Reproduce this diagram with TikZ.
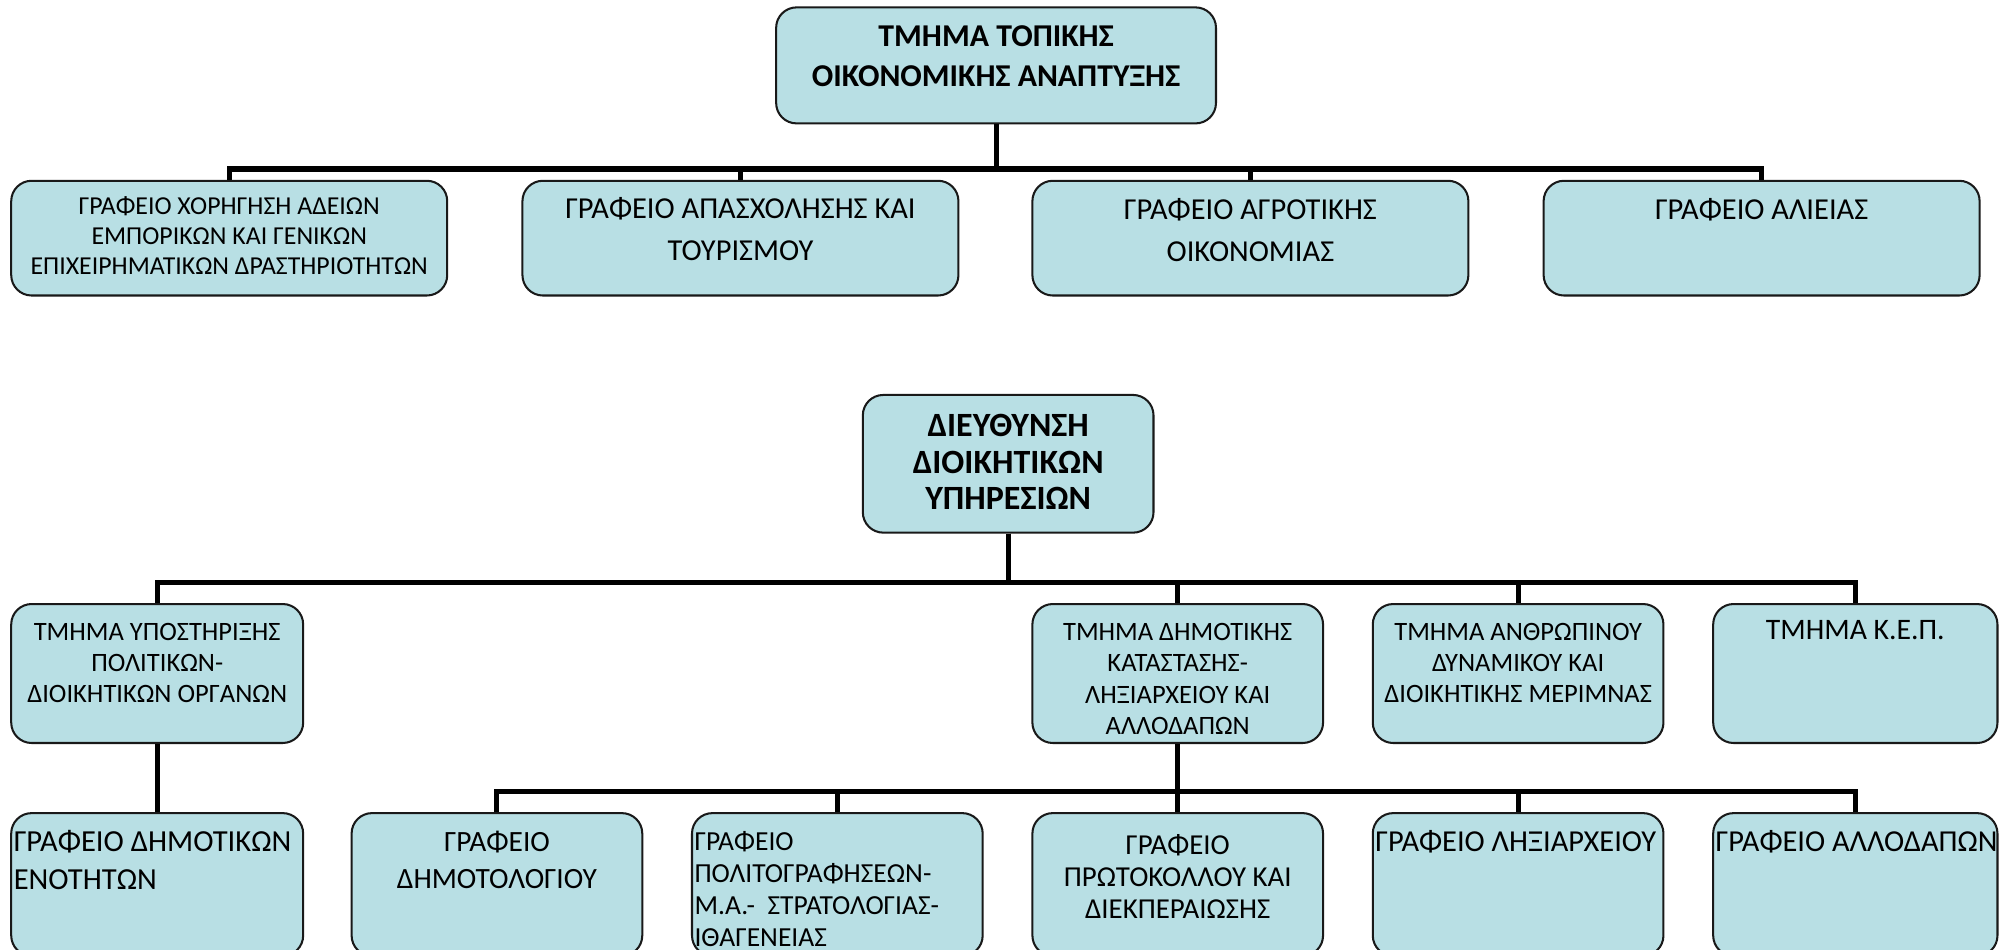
\documentclass[tikz,border=0pt]{standalone}
\usepackage{fontspec}
\setmainfont{Carlito}
\definecolor{unitfill}{RGB}{184,223,228}
\newlength{\px}
\setlength{\px}{0.75pt}
% box body: inner width, height, gap above first line, text
\newcommand{\cell}[4]{\parbox[c][#2\px][t]{#1\px}{\vspace*{#3\px}#4}}
\tikzset{every picture/.style={line width=0.75pt}}

\begin{document}
\begin{tikzpicture}[x=0.75pt,y=0.75pt,yscale=-1,xscale=1,
  unit/.style={draw=black!90, fill=unitfill, line width=1.2pt, rounded corners=12pt,
    inner xsep=1.5pt, inner ysep=0pt, anchor=north west},
  link/.style={line width=3pt},
  headfont/.style={font=\fontsize{18.7}{23.5}\selectfont\bfseries},
  dirfont/.style={font=\fontsize{20}{21.6}\selectfont\bfseries},
  officefont/.style={font=\fontsize{17.9}{24.5}\selectfont},
  sectfont/.style={font=\fontsize{15.6}{18.4}\selectfont}]
\useasboundingbox (0,0) rectangle (1568,745);

%Upper chart
\node[unit, headfont] (dept) at (608,5) {\cell{341}{91}{14}{\centering ΤΜΗΜΑ ΤΟΠΙΚΗΣ\\ΟΙΚΟΝΟΜΙΚΗΣ ΑΝΑΠΤΥΞΗΣ}};
\node[unit, font=\fontsize{15.2}{17.6}\selectfont] (licence) at (8,141) {\cell{338}{90}{12.7}{\centering ΓΡΑΦΕΙΟ ΧΟΡΗΓΗΣΗ ΑΔΕΙΩΝ\\ΕΜΠΟΡΙΚΩΝ ΚΑΙ ΓΕΝΙΚΩΝ\\ΕΠΙΧΕΙΡΗΜΑΤΙΚΩΝ ΔΡΑΣΤΗΡΙΟΤΗΤΩΝ}};
\node[unit, officefont] (employ) at (409,141) {\cell{338}{90}{13}{\centering ΓΡΑΦΕΙΟ ΑΠΑΣΧΟΛΗΣΗΣ ΚΑΙ\\ΤΟΥΡΙΣΜΟΥ}};
\node[unit, officefont] (agri) at (809,141) {\cell{338}{90}{14}{\centering ΓΡΑΦΕΙΟ ΑΓΡΟΤΙΚΗΣ\\ΟΙΚΟΝΟΜΙΑΣ}};
\node[unit, officefont] (fish) at (1210,141) {\cell{338}{90}{14}{\centering ΓΡΑΦΕΙΟ ΑΛΙΕΙΑΣ}};

\draw[link] (dept.south) -- ++(0,35) -| (licence.north);
\draw[link] (dept.south) -- ++(0,35) -| (employ.north);
\draw[link] (dept.south) -- ++(0,35) -| (agri.north);
\draw[link] (dept.south) -- ++(0,35) -| (fish.north);

%Lower chart
\node[unit, dirfont] (admin) at (676,309) {\cell{224}{108}{15}{\centering ΔΙΕΥΘΥΝΣΗ\\ΔΙΟΙΚΗΤΙΚΩΝ\\ΥΠΗΡΕΣΙΩΝ}};
\node[unit, sectfont] (support) at (8,473) {\cell{225}{109}{14.8}{\centering ΤΜΗΜΑ ΥΠΟΣΤΗΡΙΞΗΣ\\ΠΟΛΙΤΙΚΩΝ-\\ΔΙΟΙΚΗΤΙΚΩΝ ΟΡΓΑΝΩΝ}};
\node[unit, sectfont] (civil) at (809,473) {\cell{224}{109}{15.2}{\centering ΤΜΗΜΑ ΔΗΜΟΤΙΚΗΣ\\ΚΑΤΑΣΤΑΣΗΣ-\\ΛΗΞΙΑΡΧΕΙΟΥ ΚΑΙ\\ΑΛΛΟΔΑΠΩΝ}};
\node[unit, sectfont] (staff) at (1076,473) {\cell{224}{109}{14.8}{\centering ΤΜΗΜΑ ΑΝΘΡΩΠΙΝΟΥ\\ΔΥΝΑΜΙΚΟΥ ΚΑΙ\\ΔΙΟΙΚΗΤΙΚΗΣ ΜΕΡΙΜΝΑΣ}};
\node[unit, font=\fontsize{17.5}{24.5}\selectfont] (kep) at (1343,473) {\cell{219}{109}{13.2}{\centering ΤΜΗΜΑ Κ.Ε.Π.}};

\draw[link] (admin.south) -- ++(0,38) -| (support.north);
\draw[link] (admin.south) -- ++(0,38) -| (civil.north);
\draw[link] (admin.south) -- ++(0,38) -| (staff.north);
\draw[link] (admin.south) -- ++(0,38) -| (kep.north);

\node[unit, font=\fontsize{18}{22}\selectfont] (units) at (8,637) {\cell{225}{112}{13.8}{\raggedright ΓΡΑΦΕΙΟ ΔΗΜΟΤΙΚΩΝ\\ΕΝΟΤΗΤΩΝ}};
\node[unit, font=\fontsize{17.3}{21.6}\selectfont] (registry) at (275,637) {\cell{224}{112}{14.3}{\centering ΓΡΑΦΕΙΟ\\ΔΗΜΟΤΟΛΟΓΙΟΥ}};
\node[unit, font=\fontsize{16.2}{18.75}\selectfont] (natural) at (542,637) {\cell{224}{112}{14.6}{\raggedright ΓΡΑΦΕΙΟ\\ΠΟΛΙΤΟΓΡΑΦΗΣΕΩΝ-\\Μ.Α.-\ \ ΣΤΡΑΤΟΛΟΓΙΑΣ-\\ΙΘΑΓΕΝΕΙΑΣ}};
\node[unit, font=\fontsize{17}{18.6}\selectfont] (protocol) at (809,637) {\cell{224}{112}{17}{\centering ΓΡΑΦΕΙΟ\\ΠΡΩΤΟΚΟΛΛΟΥ ΚΑΙ\\ΔΙΕΚΠΕΡΑΙΩΣΗΣ}};
\node[unit, officefont] (records) at (1076,637) {\cell{224}{112}{13.2}{\raggedright ΓΡΑΦΕΙΟ ΛΗΞΙΑΡΧΕΙΟΥ}};
\node[unit, officefont] (aliens) at (1343,637) {\cell{219}{112}{13.2}{\raggedright\mbox{ΓΡΑΦΕΙΟ ΑΛΛΟΔΑΠΩΝ}}};

\draw[link] (support.south) -- (units.north);
\draw[link] (civil.south) -- ++(0,37) -| (registry.north);
\draw[link] (civil.south) -- ++(0,37) -| (natural.north);
\draw[link] (civil.south) -- (protocol.north);
\draw[link] (civil.south) -- ++(0,37) -| (records.north);
\draw[link] (civil.south) -- ++(0,37) -| (aliens.north);

\end{tikzpicture}
\end{document}
